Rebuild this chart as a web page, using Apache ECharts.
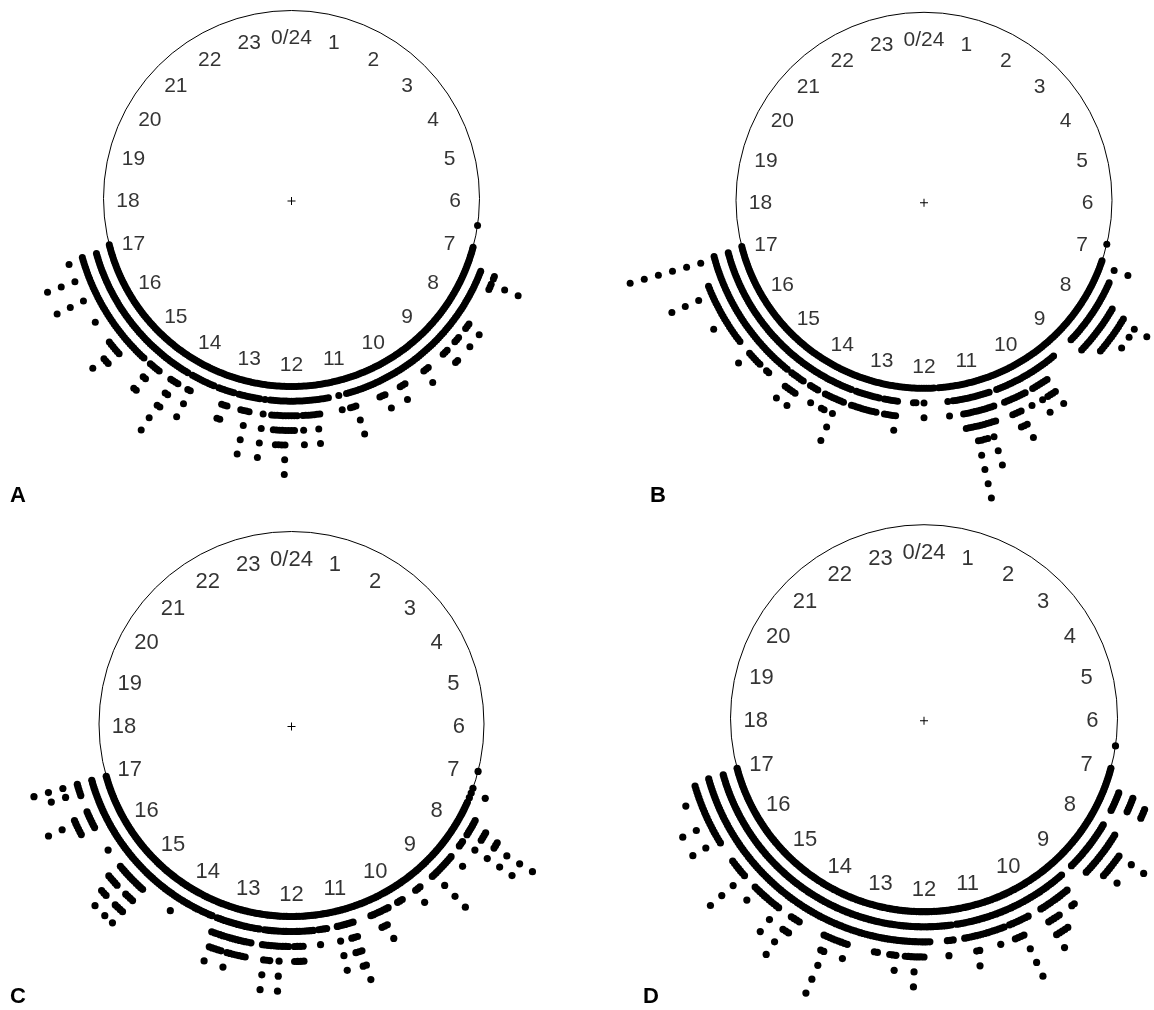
<!DOCTYPE html>
<html>
<head>
<meta charset="utf-8">
<script src="https://cdn.jsdelivr.net/npm/echarts@6/dist/echarts.min.js"></script>
<style>html,body{margin:0;padding:0;background:#fff}#chart{width:1154px;height:1010px}</style>
</head>
<body>
<div id="chart"></div>
<script>
// ---- data ----
// stacked dot counts per 0.05-hour bin; first bin at 6.50 h, one row per hour (x.50 .. x+1.45)
const BIN_START = 6.5;
const BIN_WIDTH = 0.05;
const panelNames = ['A', 'B', 'C', 'D'];
const hourTicks = [0,1,2,3,4,5,6,7,8,9,10,11,12,13,14,15,16,17,18,19,20,21,22,23];
const hourLabels = ['0/24','1','2','3','4','5','6','7','8','9','10','11','12','13','14','15','16','17','18','19','20','21','22','23'];

const countsA = [
  0,1,0,0,0,0,0,0,0,0, 1,1,1,1,1,1,1,1,3,3,   // 6.50-7.45
  2,5,3,3,2,2,2,2,2,2, 2,2,2,2,2,2,2,3,4,3,   // 7.50-8.45
  2,2,2,4,3,3,2,2,2,4, 4,3,2,2,2,2,2,2,3,3,   // 8.50-9.45
  4,2,2,2,2,2,2,2,3,3, 4,2,2,2,2,2,4,3,3,2,   // 9.50-10.45
  2,2,2,2,2,2,2,5,3,3, 1,1,3,1,1,1,2,2,2,2,   // 10.50-11.45
  3,5,3,3,3,3,5,2,3,4, 4,4,7,5,5,5,4,3,2,1,   // 11.50-12.45
  6,1,2,2,2,3,6,3,3,2, 2,1,2,3,4,4,2,2,2,1,   // 12.50-13.45
  2,2,2,2,2,2,2,5,3,2, 1,2,3,5,7,3,2,2,2,2,   // 13.50-14.45
  3,3,5,5,3,2,2,3,3,3, 3,3,3,3,5,5,6,4,4,4,   // 14.50-15.45
  3,3,3,3,3,3,3,4,3,3, 3,3,3,3,3,6,3,3,3,3,   // 15.50-16.45
  3,3,6,3,3,3,3,3,4,3, 1,1,0,0,0,0,0,0,0,0    // 16.50-17.45
];
const countsB = [
  0,0,0,0,0,0,0,0,1,0, 0,0,0,0,0,1,1,3,1,1,
  1,1,2,2,2,2,2,2,2,2, 3,4,6,4,4,5,4,4,4,5,
  4,4,4,4,4,3,3,3,3,1, 1,1,1,1,1,1,1,2,2,2,
  2,2,2,2,5,4,4,4,3,5, 3,2,2,4,3,3,3,6,5,5,
  4,3,2,1,1,3,4,4,7,4, 5,5,5,9,4,4,4,2,2,2,
  1,3,1,1,1,0,1,1,1,1, 3,1,1,2,2,1,1,1,1,1,
  4,3,3,3,3,2,1,3,3,3, 3,3,3,3,3,3,3,1,2,3,
  3,6,3,3,4,4,3,2,2,4, 3,3,3,2,2,5,4,4,4,5,
  3,2,3,3,3,3,4,4,3,3, 4,4,4,4,4,5,3,3,3,3,
  4,4,4,4,4,4,4,4,5,4, 4,4,4,4,4,4,4,4,7,4,
  4,4,3,3,3,3,3,3,3,9, 3,1,0,0,0,0,0,0,0,0
];
const countsC = [
  0,0,0,0,0,0,0,0,0,1, 0,0,0,0,0,0,1,0,2,0,
  1,0,1,1,1,1,1,2,2,3, 4,4,7,2,1,1,6,2,2,1,
  1,1,1,3,2,2,2,2,2,2, 2,2,5,2,1,1,1,1,1,2,
  2,3,1,1,1,1,1,2,2,2, 1,1,1,2,2,2,4,3,3,2,
  2,1,1,1,1,1,1,6,5,4, 2,2,2,5,1,1,1,2,2,2,
  3,1,2,2,2,2,4,4,4,4, 2,3,3,3,6,3,3,4,4,6,
  3,1,2,2,3,4,4,4,4,4, 4,5,3,4,4,4,4,5,3,1,
  2,2,2,2,2,2,2,2,2,2, 2,2,2,2,3,2,2,2,2,2,
  2,2,2,2,2,2,6,5,5,6, 3,3,3,6,5,5,4,4,2,2,
  2,2,2,2,3,2,2,2,2,2, 2,2,2,4,4,4,4,6,4,3,
  2,2,2,2,2,3,5,3,3,6, 0,0,0,0,0,0,0,0,0,0
];
const countsD = [
  0,1,0,0,0,0,0,0,0,0, 1,1,1,1,1,1,1,1,3,3,
  4,4,4,4,2,2,1,1,1,1, 1,2,3,3,3,3,3,6,4,4,
  4,4,4,4,5,4,3,3,3,2, 2,1,1,1,1,2,2,3,4,4,
  3,3,3,3,5,5,5,5,6,2, 2,2,2,3,3,3,3,7,4,4,
  4,2,3,3,3,4,3,3,3,3, 3,3,4,5,3,3,3,2,2,1,
  3,3,4,2,2,2,2,2,3,3, 4,4,4,6,4,4,4,3,3,5,
  4,4,3,3,3,4,4,3,3,3, 3,3,3,3,3,5,4,4,4,4,
  4,8,5,4,3,3,3,3,3,3, 3,3,4,5,5,7,3,3,3,3,
  6,4,4,4,4,4,4,4,4,5, 4,3,3,3,3,7,4,4,4,4,
  4,4,3,3,3,3,3,3,4,6, 4,4,4,4,4,6,4,4,4,4,
  4,4,4,5,4,4,4,4,4,3, 1,0,0,0,0,0,0,0,0,0
];
const panelCounts = [countsA, countsB, countsC, countsD];

// ---- layout / style ----
const STACK_STEP = 0.078;   // radial step between stacked dots (circle radius = 1)
const LABEL_R = 0.87;
const layout = [
  { center: [291.5, 198.5], r: 188,   font: 21, dot: 7.0, letter: [18, 496] },
  { center: [924, 200.3],   r: 188,   font: 21, dot: 7.0, letter: [658, 496] },
  { center: [291.5, 724],   r: 192.5, font: 22, dot: 7.2, letter: [18, 997] },
  { center: [924, 718.2],   r: 193.5, font: 22, dot: 7.2, letter: [651, 997] }
];
const FONT = '"Liberation Sans", Arial, sans-serif';

function stackedDots(counts) {
  const pts = [];
  counts.forEach((c, i) => {
    const h = +(BIN_START + i * BIN_WIDTH).toFixed(3);
    for (let k = 0; k < c; k++) pts.push([1 + k * STACK_STEP, h]);
  });
  return pts;
}

const series = [];
layout.forEach((l, i) => {
  series.push({
    type: 'scatter', coordinateSystem: 'polar', polarIndex: i,
    data: stackedDots(panelCounts[i]),
    symbol: 'circle', symbolSize: l.dot,
    itemStyle: { color: '#000', opacity: 1 },
    clip: false, silent: true
  });
  series.push({
    type: 'scatter', coordinateSystem: 'polar', polarIndex: i,
    data: hourTicks.map(h => [LABEL_R, h]),
    symbolSize: 1, itemStyle: { color: 'rgba(0,0,0,0)' },
    label: {
      show: true, position: 'inside', offset: [0, 3],
      formatter: p => hourLabels[p.dataIndex],
      color: '#000', fontSize: l.font, fontFamily: FONT
    },
    clip: false, silent: true
  });
  series.push({
    type: 'scatter', coordinateSystem: 'polar', polarIndex: i,
    data: [[0, 0]],
    symbol: 'path://M3.5,0H4.5V8H3.5Z M0,3.5H8V4.5H0Z', symbolSize: 8,
    symbolOffset: [0, 2.5],
    itemStyle: { color: '#000', opacity: 1 },
    clip: false, silent: true
  });
});

const option = {
  animation: false,
  backgroundColor: '#fff',
  polar: layout.map(l => ({ center: l.center, radius: l.r })),
  angleAxis: layout.map((l, i) => ({
    polarIndex: i, type: 'value', min: 0, max: 24, startAngle: 90, clockwise: true,
    axisLine: { show: true, lineStyle: { color: '#000', width: 1 } },
    axisTick: { show: false }, axisLabel: { show: false }, splitLine: { show: false }
  })),
  radiusAxis: layout.map((l, i) => ({
    polarIndex: i, type: 'value', min: 0, max: 1,
    axisLine: { show: false }, axisTick: { show: false },
    axisLabel: { show: false }, splitLine: { show: false }
  })),
  graphic: panelNames.map((n, i) => ({
    type: 'text', x: layout[i].letter[0], y: layout[i].letter[1],
    style: { text: n, fontSize: 22, fontWeight: 'bold', fontFamily: FONT, fill: '#000',
             align: 'center', verticalAlign: 'middle' }
  })),
  series: series
};

const chart = echarts.init(document.getElementById('chart'), null, { renderer: 'canvas' });
chart.setOption(option);
</script>
</body>
</html>
